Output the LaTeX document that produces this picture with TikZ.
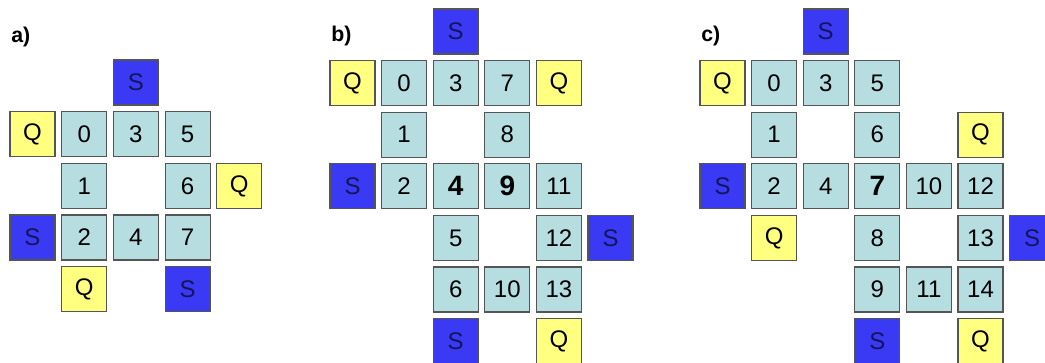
\documentclass[tikz,border=0pt]{standalone}
\usepackage{fontspec}
\setmainfont{Liberation Sans}
\definecolor{cellc}{RGB}{182,221,224}
\definecolor{sblue}{RGB}{58,58,245}
\definecolor{qyel}{RGB}{255,255,128}
\definecolor{edgec}{RGB}{85,85,85}
\definecolor{stext}{RGB}{20,20,90}
\newcommand{\bx}[5]{\node[#1] (#2) at ({\xo+#3*\px},{\yo+#4*\px}) {#5};}
\begin{document}
\begin{tikzpicture}[x=0.75pt,y=-0.75pt,
  base/.style={draw=edgec,line width=0.9pt,minimum size=33.75pt,inner sep=0pt,
    font=\fontsize{18}{18}\selectfont},
  cell/.style={base,fill=cellc},
  bcell/.style={base,fill=cellc,font=\fontsize{21}{21}\selectfont\bfseries},
  sbox/.style={base,fill=sblue,text=stext},
  qbox/.style={base,fill=qyel},
  lab/.style={anchor=west,font=\fontsize{16}{16}\selectfont\bfseries,inner sep=0pt}]
\useasboundingbox (0,0) rectangle (1045,363);
% panel a
\node[lab] (la) at (11,37) {a)};
\def\xo{32.5}\def\yo{82.5}\def\px{51.7}
\bx{sbox}{aS1}{2}{0}{S}
\bx{qbox}{aQ1}{0}{1}{Q}
\bx{cell}{a0}{1}{1}{0}
\bx{cell}{a3}{2}{1}{3}
\bx{cell}{a5}{3}{1}{5}
\bx{cell}{a1}{1}{2}{1}
\bx{cell}{a6}{3}{2}{6}
\bx{qbox}{aQ2}{4}{2}{Q}
\bx{sbox}{aS2}{0}{3}{S}
\bx{cell}{a2}{1}{3}{2}
\bx{cell}{a4}{2}{3}{4}
\bx{cell}{a7}{3}{3}{7}
\bx{qbox}{aQ3}{1}{4}{Q}
\bx{sbox}{aS3}{3}{4}{S}
% panel b
\node[lab] (lb) at (331,36) {b)};
\def\xo{352.5}\def\yo{31.5}\def\px{51.6}
\bx{sbox}{bS1}{2}{0}{S}
\bx{qbox}{bQ1}{0}{1}{Q}
\bx{cell}{b0}{1}{1}{0}
\bx{cell}{b3}{2}{1}{3}
\bx{cell}{b7}{3}{1}{7}
\bx{qbox}{bQ2}{4}{1}{Q}
\bx{cell}{b1}{1}{2}{1}
\bx{cell}{b8}{3}{2}{8}
\bx{sbox}{bS2}{0}{3}{S}
\bx{cell}{b2}{1}{3}{2}
\bx{bcell}{b4}{2}{3}{4}
\bx{bcell}{b9}{3}{3}{9}
\bx{cell}{b11}{4}{3}{11}
\bx{cell}{b5}{2}{4}{5}
\bx{cell}{b12}{4}{4}{12}
\bx{sbox}{bS3}{5}{4}{S}
\bx{cell}{b6}{2}{5}{6}
\bx{cell}{b10}{3}{5}{10}
\bx{cell}{b13}{4}{5}{13}
\bx{sbox}{bS4}{2}{6}{S}
\bx{qbox}{bQ3}{4}{6}{Q}
% panel c
\node[lab] (lc) at (701,36) {c)};
\def\xo{722.5}\def\yo{31.5}\def\px{51.6}
\bx{sbox}{cS1}{2}{0}{S}
\bx{qbox}{cQ1}{0}{1}{Q}
\bx{cell}{c0}{1}{1}{0}
\bx{cell}{c3}{2}{1}{3}
\bx{cell}{c5}{3}{1}{5}
\bx{cell}{c1}{1}{2}{1}
\bx{cell}{c6}{3}{2}{6}
\bx{qbox}{cQ2}{5}{2}{Q}
\bx{sbox}{cS2}{0}{3}{S}
\bx{cell}{c2}{1}{3}{2}
\bx{cell}{c4}{2}{3}{4}
\bx{bcell}{c7}{3}{3}{7}
\bx{cell}{c10}{4}{3}{10}
\bx{cell}{c12}{5}{3}{12}
\bx{qbox}{cQ3}{1}{4}{Q}
\bx{cell}{c8}{3}{4}{8}
\bx{cell}{c13}{5}{4}{13}
\bx{sbox}{cS3}{6}{4}{S}
\bx{cell}{c9}{3}{5}{9}
\bx{cell}{c11}{4}{5}{11}
\bx{cell}{c14}{5}{5}{14}
\bx{sbox}{cS4}{3}{6}{S}
\bx{qbox}{cQ4}{5}{6}{Q}
\end{tikzpicture}
\end{document}
